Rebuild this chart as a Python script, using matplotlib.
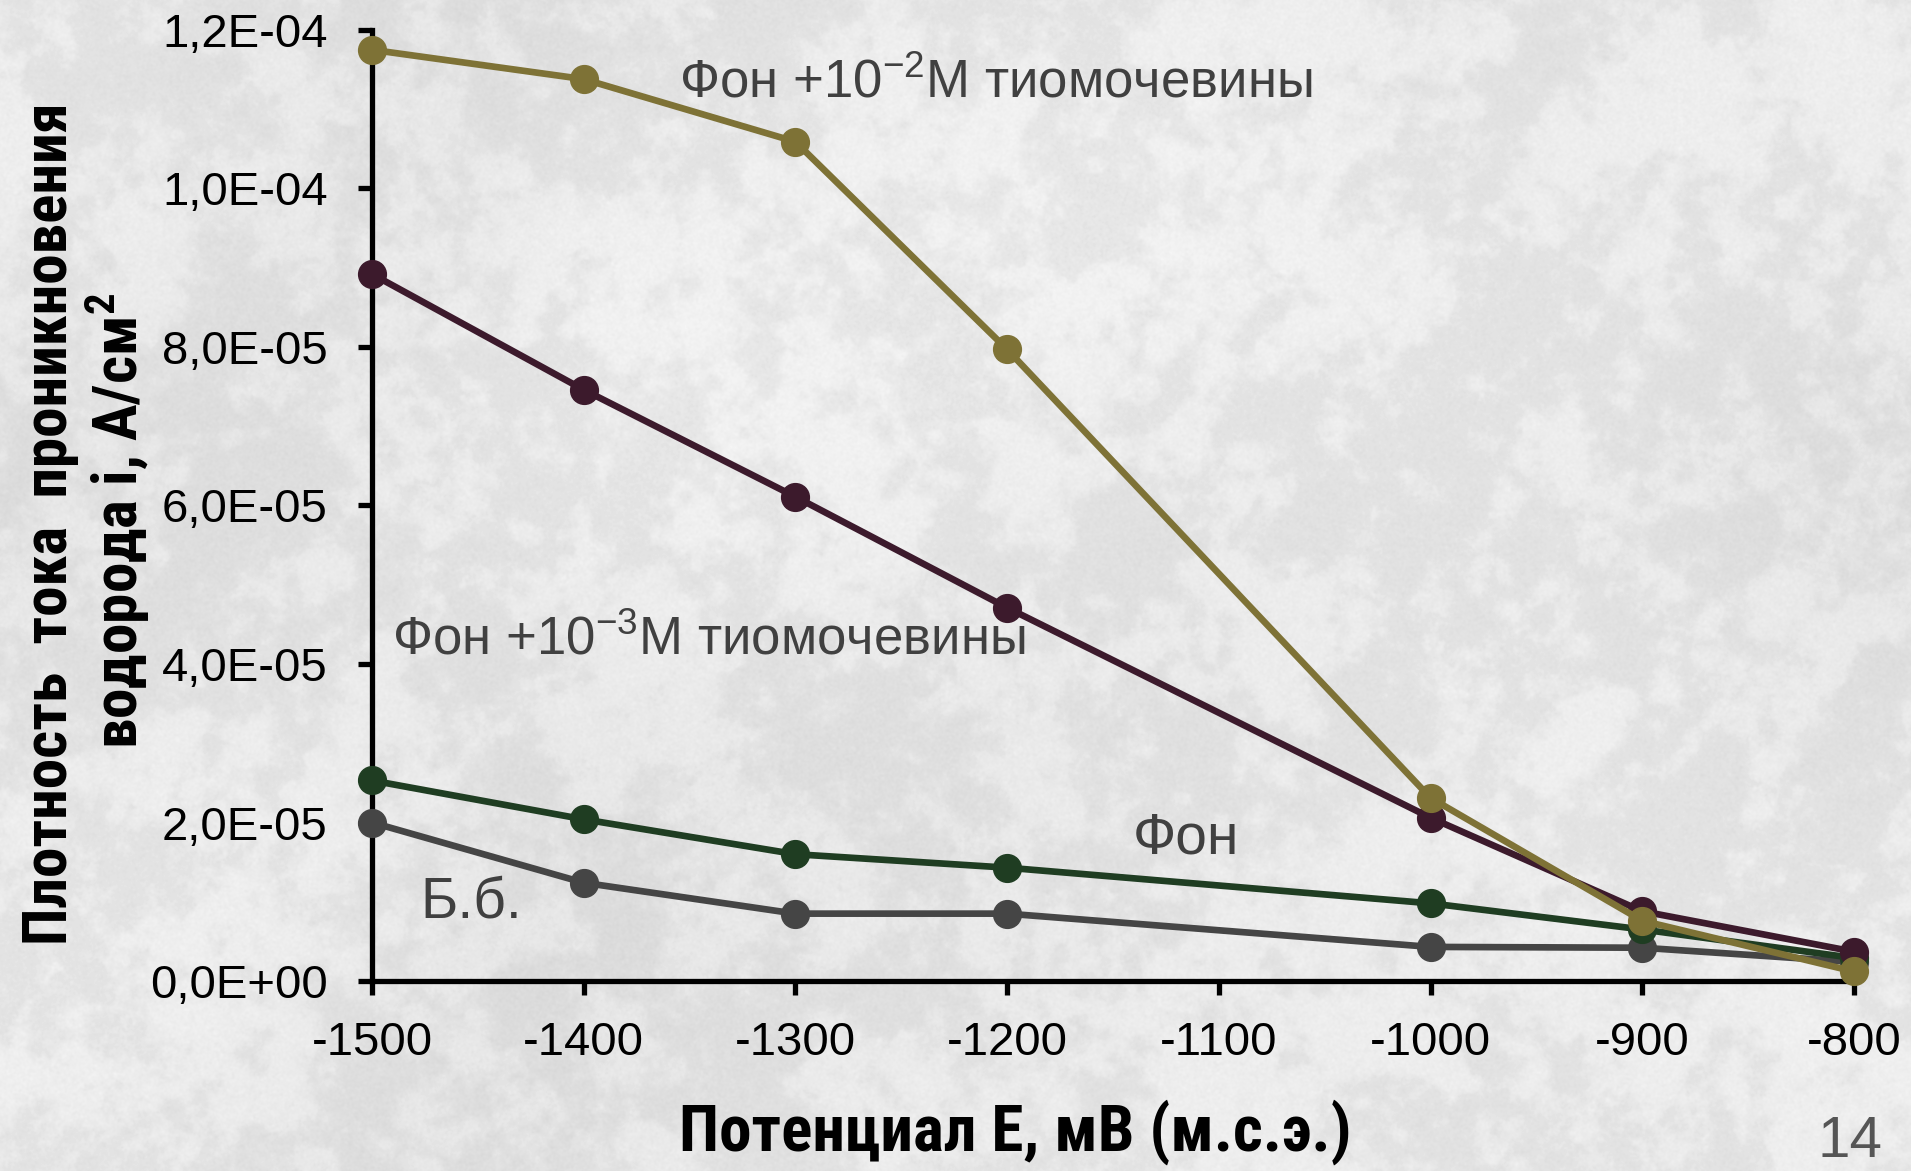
import numpy as np
import matplotlib
matplotlib.use("Agg")
import matplotlib.pyplot as plt
from matplotlib import font_manager as fm
from matplotlib.ticker import FuncFormatter

# ---- data -------------------------------------------------------------
potential_mV = [-1500, -1400, -1300, -1200, -1000, -900, -800]

blank_bb = [2.00e-5, 1.24e-5, 8.5e-6, 8.5e-6, 4.3e-6, 4.2e-6, 2.4e-6]
background = [2.53e-5, 2.04e-5, 1.60e-5, 1.43e-5, 9.8e-6, 6.5e-6, 2.9e-6]
thiourea_1e3 = [8.92e-5, 7.46e-5, 6.11e-5, 4.71e-5, 2.06e-5, 8.8e-6, 3.7e-6]
thiourea_1e2 = [1.175e-4, 1.138e-4, 1.059e-4, 7.97e-5, 2.31e-5, 7.6e-6, 1.2e-6]

series_labels = ["Б.б.", "Фон", "Фон +10$^{-3}$М тиомочевины", "Фон +10$^{-2}$М тиомочевины"]
series_colors = ["#454545", "#1f3d22", "#3c1a2c", "#7e7236"]

y_ticks = [0, 2e-5, 4e-5, 6e-5, 8e-5, 1.0e-4, 1.2e-4]
x_ticks = [-1500, -1400, -1300, -1200, -1100, -1000, -900, -800]

# ---- fonts --------------------------------------------------------------
installed = {f.name for f in fm.fontManager.ttflist}
REG = "Liberation Sans" if "Liberation Sans" in installed else "DejaVu Sans"
NARROW = None
for cand in ["Liberation Sans Narrow", "Arial Narrow", "Roboto Condensed", "Open Sans Condensed"]:
    if cand in installed:
        NARROW = cand
        break
label_font = NARROW if NARROW else REG
ylab_size = 44 if NARROW else 36
xlab_size = 47 if NARROW else 38

plt.rcParams["font.family"] = [REG, "DejaVu Sans"]
plt.rcParams["mathtext.fontset"] = "custom"
plt.rcParams["mathtext.rm"] = REG
plt.rcParams["mathtext.default"] = "regular"

W, H, DPI = 1911, 1171, 100
fig = plt.figure(figsize=(W / DPI, H / DPI), dpi=DPI)

# ---- stone-like mottled backdrop ---------------------------------------
def smooth(field, sigma):
    fy = np.fft.fftfreq(field.shape[0])[:, None]
    fx = np.fft.rfftfreq(field.shape[1])[None, :]
    g = np.exp(-2.0 * (np.pi * sigma) ** 2 * (fx ** 2 + fy ** 2))
    return np.fft.irfft2(np.fft.rfft2(field) * g, s=field.shape)

rng = np.random.default_rng(7)
tex = np.zeros((H, W))
for sigma, weight in [(45, 0.8), (18, 0.9), (7, 0.7), (2.5, 0.35)]:
    layer = smooth(rng.standard_normal((H, W)), sigma)
    tex += weight * layer / layer.std()
tex = np.tanh(1.3 * tex / tex.std())
broad = smooth(rng.standard_normal((H, W)), 150)
broad /= broad.std()
grain = smooth(rng.standard_normal((H, W)), 1.0)
grain /= grain.std()
shade = 0.905 + 0.024 * tex + 0.010 * broad + 0.005 * grain
shade = np.clip(shade, 0.84, 0.96)
bg_ax = fig.add_axes([0, 0, 1, 1], zorder=-10)
bg_ax.imshow(shade, cmap="gray", vmin=0, vmax=1, aspect="auto", interpolation="bilinear")
bg_ax.set_axis_off()

# ---- main axes ----------------------------------------------------------
ax = fig.add_axes([372 / W, (H - 981) / H, (1854 - 372) / W, (981 - 30) / H])
ax.patch.set_alpha(0)

all_series = [blank_bb, background, thiourea_1e3, thiourea_1e2]
for vals, col in zip(all_series, series_colors):
    ax.plot(potential_mV, vals, color=col, lw=4.8, marker="o", ms=20,
            mec=col, mfc=col, clip_on=False, zorder=3)

ax.set_xlim(-1500, -800)
ax.set_ylim(0, 1.2e-4)
ax.set_xticks(x_ticks)
ax.set_yticks(y_ticks)
ax.xaxis.set_major_formatter(FuncFormatter(lambda v, p: f"{int(v)}"))
ax.yaxis.set_major_formatter(FuncFormatter(lambda v, p: f"{v:.1E}".replace(".", ",")))

for side in ["top", "right"]:
    ax.spines[side].set_visible(False)
for side in ["left", "bottom"]:
    ax.spines[side].set_linewidth(3.8)
    ax.spines[side].set_color("black")
ax.tick_params(axis="both", direction="out", width=3.8, length=10,
               labelsize=34, colors="black")
ax.tick_params(axis="y", pad=22)
ax.tick_params(axis="x", pad=19)

# ---- series captions ---------------------------------------------------
cap_color = "#404040"
ax.text(679 / W, 1 - 83 / H, series_labels[3], transform=fig.transFigure,
        fontsize=38, color=cap_color, ha="left", va="center")
ax.text(392 / W, 1 - 640 / H, series_labels[2], transform=fig.transFigure,
        fontsize=38, color=cap_color, ha="left", va="center")
ax.text(1133 / W, 1 - 838 / H, series_labels[1], transform=fig.transFigure,
        fontsize=41, color=cap_color, ha="left", va="center")
ax.text(420 / W, 1 - 902 / H, series_labels[0], transform=fig.transFigure,
        fontsize=41, color=cap_color, ha="left", va="center")

# ---- axis titles --------------------------------------------------------
fig.text(67 / W, 1 - 524 / H, "Плотность  тока  проникновения", rotation=90,
         rotation_mode="anchor", ha="center", va="baseline",
         fontsize=ylab_size, fontweight="bold", family=[label_font, "DejaVu Sans"])
fig.text(138 / W, 1 - 521 / H, "водорода i, A/см$^{2}$", rotation=90,
         rotation_mode="anchor", ha="center", va="baseline",
         fontsize=ylab_size, fontweight="bold", family=[label_font, "DejaVu Sans"])
fig.text(1015 / W, 1 - 1151 / H, "Потенциал Е, мВ (м.с.э.)", ha="center",
         va="baseline", fontsize=xlab_size, fontweight="bold",
         family=[label_font, "DejaVu Sans"])

# slide number
fig.text(1883 / W, 1 - 1142 / H, "14", ha="right", va="center",
         fontsize=42, color="#555555")

fig.savefig("out.png", dpi=DPI)
